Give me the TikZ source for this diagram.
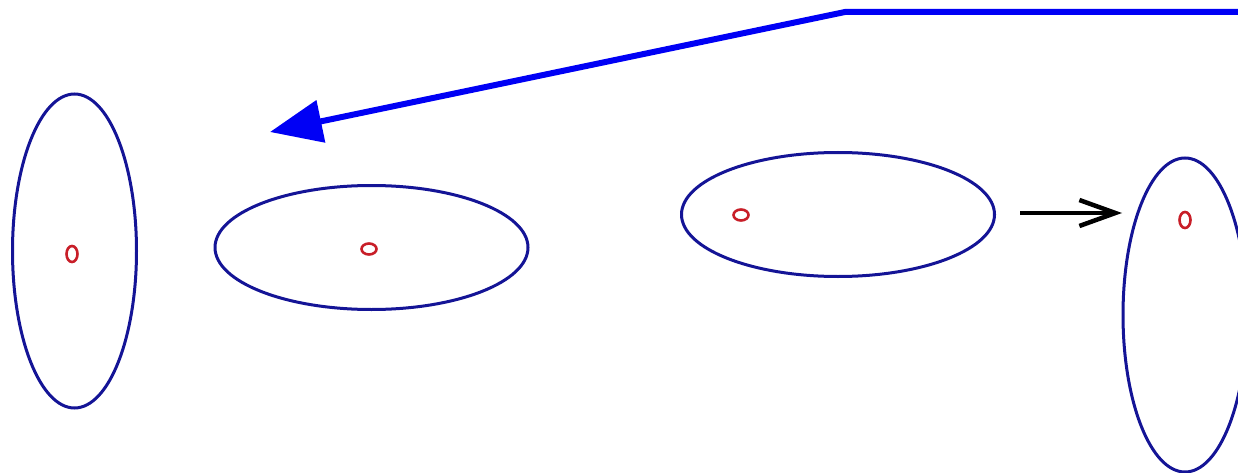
\documentclass[tikz,border=0pt]{standalone}
\usetikzlibrary{shapes.geometric,arrows.meta}
\definecolor{rim}{RGB}{20,20,150}
\definecolor{dot}{RGB}{200,30,40}
\definecolor{bluearrow}{RGB}{0,0,245}
\begin{document}
\begin{tikzpicture}[x=1pt,y=-1pt,
  bigell/.style={draw=rim, line width=3pt, ellipse, inner sep=0pt},
  vell/.style={bigell, minimum width=124pt, minimum height=314pt},
  hell/.style={bigell, minimum width=313pt, minimum height=124pt},
  vdot/.style={draw=dot, line width=2.6pt, ellipse, inner sep=0pt, minimum width=11pt, minimum height=16pt},
  hdot/.style={draw=dot, line width=2.6pt, ellipse, inner sep=0pt, minimum width=15pt, minimum height=11pt},
  bluepath/.style={draw=bluearrow, line width=6pt, -{Triangle[length=52pt,width=42pt]}},
  blackarrow/.style={draw=black, line width=4.5pt, -{Straight Barb[length=36pt,width=26pt]}}
]
\useasboundingbox (0,0) rectangle (1238,473);
\node[vell] (e1) at (74.5,251) {};
\node[vdot] (d1) at (72,254) {};
\node[hell] (e2) at (371.5,247.5) {};
\node[hdot] (d2) at (369,249) {};
\node[hell] (e3) at (838,214.5) {};
\node[hdot] (d3) at (741,215) {};
\node[vell] (e4) at (1185,315) {};
\node[vdot] (d4) at (1185,220) {};
\coordinate (bstart) at (1245,12);
\coordinate (bbend) at (845,12);
\coordinate (btip) at (270,132);
\draw[bluepath] (bstart) -- (bbend) -- (btip);
\coordinate (kstart) at (1020,213);
\coordinate (ktip) at (1122,213);
\draw[blackarrow] (kstart) -- (ktip);
\end{tikzpicture}
\end{document}
